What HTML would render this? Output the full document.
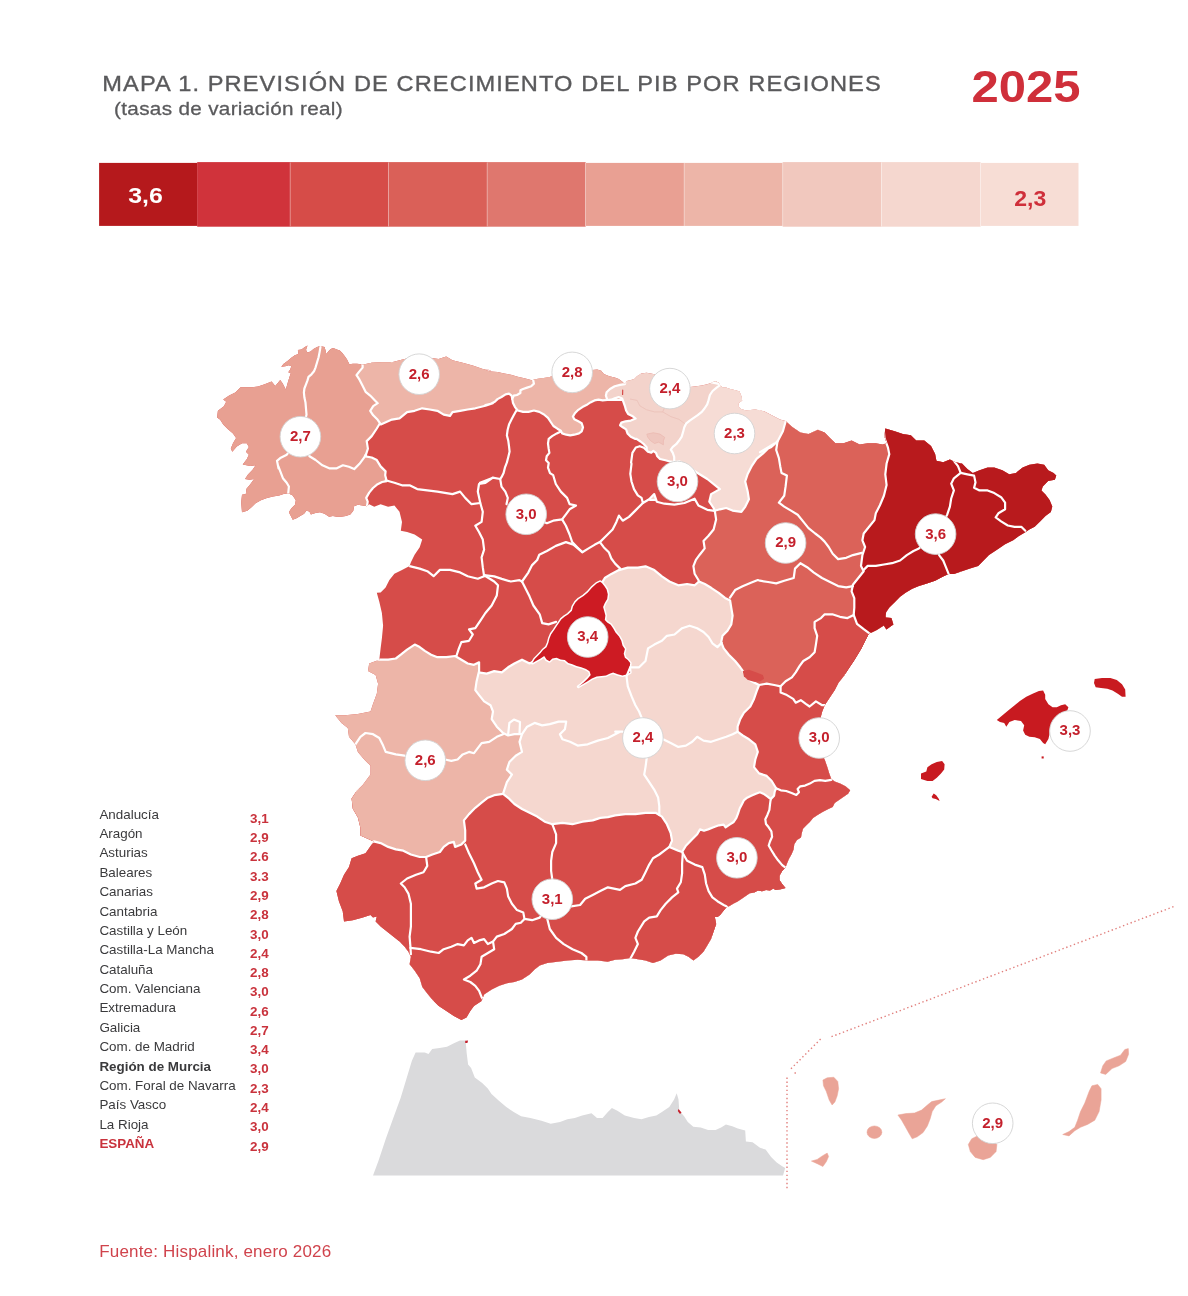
<!DOCTYPE html>
<html lang="es"><head><meta charset="utf-8"><title>Mapa 1. Previsión de crecimiento del PIB por regiones 2025</title>
<style>html,body{margin:0;padding:0;background:#fff}body{width:1188px;height:1296px;overflow:hidden;font-family:"Liberation Sans",sans-serif}svg{display:block}.n{font:13.4px "Liberation Sans",sans-serif;fill:#3a3a3c}.v{font:bold 13.4px "Liberation Sans",sans-serif;fill:#c9323c}.lb{font:bold 15px "Liberation Sans",sans-serif;fill:#c4202c;text-anchor:middle}</style></head><body>
<svg width="1188" height="1296" viewBox="0 0 1188 1296">
<rect width="1188" height="1296" fill="#fff"/>
<text x="102.3" y="91" font-family="Liberation Sans, sans-serif" font-size="21.5" fill="#5a5a5c" stroke="#5a5a5c" stroke-width="0.35" letter-spacing="1" textLength="779.5" lengthAdjust="spacingAndGlyphs">MAPA 1. PREVISIÓN DE CRECIMIENTO DEL PIB POR REGIONES</text>
<text x="114" y="115.2" font-family="Liberation Sans, sans-serif" font-size="19" fill="#5a5a5c" stroke="#5a5a5c" stroke-width="0.3" letter-spacing="0.3" textLength="229" lengthAdjust="spacingAndGlyphs">(tasas de variación real)</text>
<text x="971.6" y="101.6" font-family="Liberation Sans, sans-serif" font-weight="bold" font-size="43.5" fill="#cf2f3a" textLength="109" lengthAdjust="spacingAndGlyphs">2025</text>
<rect x="99.1" y="162.9" width="98.4" height="63" fill="#b5191c"/>
<rect x="197.2" y="162.1" width="93.1" height="64.6" fill="#d0333b"/>
<rect x="290" y="162.1" width="98.8" height="64.6" fill="#d64c48"/>
<rect x="388.5" y="162.1" width="98.8" height="64.6" fill="#da6058"/>
<rect x="487" y="162.1" width="98.8" height="64.6" fill="#df776e"/>
<rect x="585.5" y="162.9" width="98.8" height="63" fill="#e9a093"/>
<rect x="684" y="162.9" width="98.9" height="63" fill="#edb5a8"/>
<rect x="782.6" y="162.1" width="98.9" height="64.6" fill="#f1c8be"/>
<rect x="881.2" y="162.1" width="99.5" height="64.6" fill="#f5d7cf"/>
<rect x="980.4" y="162.9" width="98.1" height="63" fill="#f7ddd5"/>
<rect x="289.8" y="162.5" width="0.7" height="64" fill="#fff" fill-opacity="0.55"/>
<rect x="388.3" y="162.5" width="0.7" height="64" fill="#fff" fill-opacity="0.55"/>
<rect x="486.8" y="162.5" width="0.7" height="64" fill="#fff" fill-opacity="0.55"/>
<rect x="585.3" y="162.5" width="0.7" height="64" fill="#fff" fill-opacity="0.55"/>
<rect x="683.8" y="162.5" width="0.7" height="64" fill="#fff" fill-opacity="0.55"/>
<rect x="782.4" y="162.5" width="0.7" height="64" fill="#fff" fill-opacity="0.55"/>
<rect x="881" y="162.5" width="0.7" height="64" fill="#fff" fill-opacity="0.55"/>
<rect x="980.2" y="162.5" width="0.7" height="64" fill="#fff" fill-opacity="0.55"/>
<text x="128.2" y="203" font-family="Liberation Sans, sans-serif" font-weight="bold" font-size="22.5" fill="#fff" textLength="34.6" lengthAdjust="spacingAndGlyphs">3,6</text>
<text x="1014.2" y="205.8" font-family="Liberation Sans, sans-serif" font-weight="bold" font-size="22" fill="#cf2f3a" textLength="32" lengthAdjust="spacingAndGlyphs">2,3</text>
<path d="M373 1175.6 L378.5 1160.7 L385.9 1138.5 L393.3 1118.1 L400.7 1097.8 L406.3 1079.3 L411.9 1060.7 L415.6 1052.6 L424.8 1052.6 L428.5 1054.1 L432.2 1048.9 L439.6 1048.1 L447 1046.7 L454.4 1043 L460 1040.4 L465.6 1040.4 L466.7 1053.3 L468.1 1064.4 L471.1 1068.1 L474.8 1077.4 L482.2 1083 L487.8 1088.5 L491.5 1094.1 L498.9 1100.7 L506.3 1107 L513.7 1111.9 L521.1 1116.3 L530.4 1118.1 L541.5 1120.7 L550.7 1123.7 L560 1121.9 L567.4 1119.3 L574.8 1118.1 L582.2 1115.6 L591.5 1113.3 L597 1118.1 L602.6 1118.1 L607.4 1112.6 L611.9 1108.1 L617.4 1110.7 L624.8 1115.6 L634.1 1118.1 L641.5 1119.3 L648.9 1117 L656.3 1115.6 L661.9 1111.9 L669.3 1107 L674.1 1099.6 L676.7 1093.3 L678.5 1099.6 L679.3 1110.7 L684.1 1116.3 L687.8 1121.9 L693.3 1126.7 L700.7 1127.4 L708.1 1130 L715.6 1130 L721.1 1127.4 L725.9 1124.4 L732.2 1126.3 L737.8 1128.5 L745.2 1130.4 L745.9 1141.5 L752.6 1142.2 L760 1147.8 L765.6 1149.6 L771.1 1157 L776.7 1162.6 L782.2 1166.3 L785.2 1168.1 L783 1175.6Z" fill="#dadadc"/>
<path d="M465.2 1040.7 L468.1 1040.4 L467.4 1043 L465.2 1043Z" fill="#c4202c"/>
<path d="M678.5 1108.9 L681.5 1112.6 L680 1114.1 L677.8 1111.1Z" fill="#c4202c"/>
<defs><clipPath id="sil"><path d="M242 512.3 L241.2 502.4 L242 494.8 L245.8 494.1 L246.5 488.8 L250.3 484.2 L254.1 478.9 L249.5 479.7 L245 478.9 L248 474.4 L252.6 469.8 L255.6 465.3 L250.3 466.1 L242.7 464.5 L246.7 459.2 L248.9 454.7 L245.9 451.7 L248.9 447.1 L246.7 443.3 L242.1 443.3 L236.8 446.4 L232.3 451.7 L230.8 448.6 L233 443.3 L236.1 438 L233 433.5 L227.7 428.9 L223.2 424.4 L220.2 419.8 L217.1 417.6 L217.9 410.8 L223.9 406.2 L226.2 401.7 L223.2 399.4 L229.2 395.6 L235.3 392.6 L240.6 387.3 L245.9 387.3 L252 387.3 L258 386.5 L264 384.4 L269.1 382.4 L271.6 381.4 L275.2 386 L278.2 382.4 L280.2 379.9 L282.7 383.4 L285.8 389.5 L287.8 382.4 L289.3 377.4 L290.8 373.3 L288.3 372.3 L290.3 369.3 L291.3 366.3 L288.8 365.3 L285.3 366.3 L281.2 366.8 L283.7 363.7 L287.8 360.7 L291.3 357.7 L294.8 355.2 L298.4 354.1 L297.9 350.1 L301.4 349.6 L304.9 347.1 L307.5 345.6 L306 350.1 L307.5 352.6 L310.5 351.6 L313.5 349.1 L317.1 347.1 L320.1 346.1 L322.1 346.6 L324.6 347.1 L325.7 351.1 L326.2 354.1 L328.7 351.1 L330.7 349.1 L333.2 348.1 L336.8 349.6 L339.8 350.6 L342.3 353.1 L344.8 356.2 L346.9 359.2 L348.4 362.2 L349.4 364.2 L352.9 363.7 L357 363.7 L361 364.2 L362.5 364.7 L371.7 362.8 L381.8 362.3 L391.9 362.3 L399.5 360.3 L409.6 357.8 L419.7 356.5 L429.8 357.8 L438.6 359 L446.2 356.5 L452.5 360.3 L462.6 362.8 L472.7 365.4 L482.8 369.1 L492.9 370.4 L484 369.4 L490.8 371.4 L497.5 372.1 L504.2 373.5 L511 374.8 L517.7 376.8 L524.4 378.2 L531.9 380.2 L536.6 378.9 L542 378.2 L547.3 377.5 L552.7 376.2 L560.8 374.1 L574.3 372.1 L587.7 370.8 L592.5 370.1 L597.2 369.4 L601.2 370.8 L603.9 374.1 L609.3 376.2 L614.7 377.5 L618.7 378.9 L622.1 381.5 L624.8 384.2 L627 380.9 L630.4 380.2 L634.4 378.9 L637.1 376.2 L641.2 373.5 L646.6 372.8 L650.6 373.5 L657.3 374.8 L665.4 376.8 L673.5 380.2 L682.9 384.2 L690.3 386.9 L696.4 386.3 L701.8 385.6 L707.2 384.2 L711.2 382.9 L715.3 380.9 L719.3 382.9 L720 384.9 L722.7 387.6 L726 387.6 L730.1 389 L735.5 390.3 L739.5 391.6 L741.5 396.4 L742.2 400.4 L738.8 403.1 L738.1 406.5 L741.5 409.2 L746.2 410.5 L755.3 409.5 L764.1 411.3 L770.4 414.6 L780 419.6 L773.5 417.7 L785.6 420.9 L792.3 427.1 L800.4 432.5 L808.5 433.9 L817.9 429.8 L824.6 432.5 L830 437.9 L835.4 443.3 L843.5 443.3 L851.6 440.6 L859.7 444.6 L867.7 443.3 L875.8 443.3 L882.6 444.6 L886.6 443.3 L884.4 436.6 L885.3 428.5 L894.7 431.2 L902.8 433.9 L910.8 435.2 L916.2 440.6 L924.3 440.6 L931 446 L935.1 454.1 L936.4 460.8 L943.2 462.2 L949.9 459.5 L955.3 462.2 L962 463.5 L967.4 468.9 L972.8 472.9 L979.5 470.2 L987.6 467.5 L994.3 467.5 L1002.4 470.2 L1009.2 474.3 L1015.9 472.9 L1022.6 467.5 L1029.4 464.8 L1037.4 463.5 L1044.2 464.8 L1048.2 470.2 L1053.6 472.9 L1056.3 475.6 L1054.9 479.7 L1048.2 481 L1042.8 486.4 L1041.5 490.4 L1045.5 494.5 L1049.6 499.9 L1052.3 506.6 L1050.9 512 L1045.5 516 L1040.1 521.4 L1034.7 526.8 L1029.4 529.5 L1025.3 532.2 L1018.6 536.2 L1013.2 540.3 L1005.1 544.3 L997 549.7 L989 555.1 L983.6 560.5 L978.2 565.9 L970.1 568.6 L962 571.2 L953.9 573.9 L948.6 573.9 L943.2 576.6 L935.1 580.7 L927 583.4 L918.9 586.1 L912.2 588.8 L905.5 592.8 L900.1 596.8 L894.7 602.2 L889.3 607.6 L886.1 612.2 L885.6 616.1 L885.8 617.4 L891.4 618.1 L893.4 624.4 L886.4 629.5 L883.8 625.5 L876.8 630 L871.7 632.6 L869.1 633.2 L865.2 640.8 L861.4 648.4 L857.6 654.7 L853.8 661 L848.7 668.6 L843.7 676.2 L838.6 682.5 L834.8 690.1 L829.8 697.6 L824.7 705.2 L822.2 711.5 L820.2 719.1 L819.2 729.2 L819.2 746.9 L822.2 755.7 L824.7 759.5 L827.3 767.1 L829.3 773.5 L831.3 778.9 L834.7 781.5 L840.1 783.6 L845.5 786.3 L850.2 790.3 L848.1 793.7 L844.1 796.4 L839.4 799.7 L834.7 803.1 L832.7 807.1 L827.9 809.2 L822.6 811.9 L817.2 815.2 L813.1 817.9 L809.8 822 L806.4 825.3 L803 828.7 L801.7 833.4 L801 837.4 L797 840.1 L794.3 844.2 L793.6 849.6 L791.6 854.3 L788.9 859 L786.9 863.7 L785.5 867.7 L782.2 871.1 L779.5 875.8 L779.5 879.9 L782.2 883.9 L785.5 887.9 L780.8 889.3 L775.4 890 L773.4 888.6 L770 890.6 L766 890 L762 891.3 L757.9 890.6 L753.9 892.7 L749.8 893.3 L745.8 896 L741.8 898.7 L737.7 901.4 L733.7 903.4 L729.6 906.1 L726.3 907.5 L722.9 911.5 L720.2 914.9 L717.5 916.9 L714.8 916.9 L716.2 923.9 L713.6 931.5 L711.1 939.1 L707.3 945.4 L703.5 951.7 L698.5 956.8 L693.4 960.6 L688.4 956.8 L683.3 954.2 L675.8 953.7 L668.2 955.5 L660.6 960.6 L653 963.1 L645.5 960.6 L637.9 959.3 L630.3 958 L622.7 959.3 L615.2 959.8 L607.6 961.8 L607.9 961.8 L597.8 960.6 L587.7 960.6 L577.6 959.8 L567.5 960.6 L557.4 961.8 L547.3 963.1 L539.7 965.6 L534.6 969.4 L529.6 974.4 L522 979.5 L514.4 982 L506.9 983.3 L499.3 985.8 L491.7 989.6 L484.1 994.6 L481.6 1001 L474 1006 L470.3 1011.1 L466.5 1017.4 L461.4 1019.9 L453.8 1016.1 L446.3 1011.1 L438.7 1006 L432.4 999.7 L427.3 993.4 L422.3 987.1 L419.7 978.2 L414.7 970.7 L409.6 964.3 L410.9 956.8 L408.4 951.7 L404.6 946.7 L399.5 941.6 L393.2 936.6 L386.9 931.5 L380.6 926.5 L375.6 921.4 L376.8 916.4 L373 917.6 L370.5 915.1 L362.9 917.6 L352.8 920.2 L344 921.4 L342.7 911.3 L338.9 901.2 L336.4 891.1 L340.2 883.5 L344 874.7 L349 867.1 L351.6 858.3 L357.9 855.8 L365.5 853.2 L373.8 841.4 L360.4 835.6 L360.4 827.7 L357.9 817.6 L352.8 808.7 L351.6 798.6 L356.6 791.1 L362.9 784.7 L370.5 774.6 L370.5 765.8 L364.2 759.5 L357.9 751.9 L355.4 744.3 L349 736.8 L347.8 727.9 L341.5 722.9 L335.2 715.3 L345.3 715.3 L357.9 714 L370.5 711.5 L373 703.9 L376.8 693.8 L378.1 683.7 L375.6 674.9 L368 671.1 L369.2 663.5 L379.3 659.7 L380.6 648.4 L381.9 638.3 L383.1 625.7 L381.9 613 L379.3 601.7 L376.8 592.8 L380.6 592.6 L385.6 587.6 L389.4 580 L394.4 573.7 L402 569.9 L409.6 566.1 L410.9 562.3 L414.6 554.7 L419.7 547.2 L422.2 539.6 L414.6 534.5 L407.1 532 L400.8 530.8 L402 521.9 L399.5 511.8 L394.4 505.5 L388.1 506.8 L380.6 504.2 L374.2 506.8 L369.2 504.2 L367 506.2 L362.4 505.5 L357.9 504.7 L354.1 506.2 L353.3 510.8 L350.3 514.5 L345.8 516.1 L341.2 516.8 L336.7 516.8 L332.9 516.1 L329.1 516.8 L324.5 513.8 L320 512.3 L315.5 513 L310.9 514.5 L309.4 511.5 L306.4 510.8 L304.1 513.8 L300.3 516.1 L296.5 518.3 L292.7 519.8 L291.2 516.8 L288.9 512.3 L291.2 508.5 L295 504.7 L295.8 500.2 L292.7 495.6 L288.2 493.3 L283.6 494.1 L279.1 495.6 L273 496.4 L267 497.9 L260.9 500.2 L255.6 503.2 L251.8 507 L247.3 510.8Z"/></clipPath></defs>
<g clip-path="url(#sil)" stroke="#fff" stroke-width="2.2" stroke-linejoin="round" stroke-linecap="round">
<path d="M150 300 L1200 300 L1200 1100 L150 1100Z" fill="#d64c49"/>
<path d="M478.6 672.4 L486.7 673.6 L494.2 671.1 L501.8 672.4 L508.1 667.3 L514.4 663.5 L522 659.7 L529.6 663.5 L534.6 661 L601.2 583.8 L605.1 577.7 L611.4 573.9 L618.9 570.1 L627.8 567.6 L637.9 567.6 L645.5 566.3 L654.3 570.1 L661.9 576.4 L669.4 581.5 L678.3 585.3 L687.1 584 L694.7 585.3 L699 581.5 L900 560 L900 1000 L400 1000 L400 760 L446.3 691.3Z" fill="#f5d7cf"/>
<path d="M380.6 422.2 L376.8 428.5 L371.7 436.1 L366.7 441.1 L367.9 448.7 L365.4 456.3 L371.7 457.5 L376.8 460.1 L380.6 466.4 L385.6 471.4 L385.2 475.2 L386.7 481.2 L382.1 482 L377.6 484.2 L373 488 L369.2 492.6 L366.2 497.9 L367.7 501.7 L367 506.2 L367.3 507.7 L380 560 L180 560 L180 320 L400 320Z" fill="#e8a092"/>
<path d="M362.6 365.3 L362.6 367.6 L358.8 372.1 L356.5 375.2 L359.5 379.7 L362.6 385.8 L365.6 391.8 L370.2 395.6 L374.7 400.2 L377.7 403.2 L373.2 406.2 L370.2 410.8 L373.2 415.3 L377.7 419.8 L380.8 424.4 L391.9 419.6 L399.5 418.4 L407.1 412.1 L414.6 410.8 L422.2 408.3 L429.8 409.5 L437.4 410.8 L443.7 414.6 L450 415.9 L452.5 412.1 L460.1 410.8 L467.7 409.5 L475.3 408.3 L485.4 405.8 L492.9 403.2 L485.4 405.1 L490.8 403.8 L494.8 401.8 L497.5 399.1 L501.5 397 L505.6 394.3 L509 393.7 L511.6 395.7 L512.3 399.1 L560 420 L560 320 L350 320Z" fill="#edb5a8"/>
<path d="M532.8 378.9 L533.2 380.2 L533.9 383.6 L531.2 386.3 L527.1 387.6 L523.1 389 L520.4 390.3 L520.4 393 L517 395 L513.7 395.7 L512.3 399.1 L513 403.1 L515 407.1 L517.7 410.5 L523.1 411.9 L528.5 411.9 L533.9 410.5 L539.3 411.9 L544 414.5 L548 417.9 L550.7 422 L553.4 426 L557.4 428.7 L560.8 430.7 L562.2 433.4 L566.2 434.7 L570.2 435.4 L574.3 434.7 L579 433.4 L581.7 431.4 L583 427.3 L581.7 423.3 L578.3 421.3 L574.3 419.3 L572.9 416.6 L574.9 413.2 L578.3 409.8 L582.4 407.1 L586.4 405.1 L590.4 402.4 L594.5 400.4 L598.5 399.7 L602.6 400.4 L607.3 400 L640 400 L640 340 L530 340Z" fill="#edb5a8"/>
<path d="M625.2 382.9 L624.8 384.2 L620.1 384.9 L614.7 386.3 L610 389 L606.6 392.3 L605.9 395.7 L607.3 400 L611.3 399.7 L614.7 398.4 L618.7 397 L622.1 398.4 L623.4 401.8 L624.8 405.8 L626.1 410.5 L628.1 413.9 L632.2 415.9 L635.6 418.6 L630.8 420.6 L625.5 421.3 L621.4 422.6 L620.1 425.3 L622.8 427.3 L626.1 429.4 L627.5 433.4 L630.8 436.8 L634.9 438.8 L636.5 438.8 L640.5 441.5 L643.9 444.2 L646.6 447.3 L650 500 L760 500 L760 340 L625 340Z" fill="#f3d3cb"/>
<path d="M674.2 462 L670.8 461.7 L665.4 460.3 L660 459 L657.3 456.3 L656 452.9 L653.3 450.9 L651.3 452.7 L647.9 451.6 L643.9 447.8 L639.8 446.2 L635.8 447.5 L632.4 452.9 L631.1 462.4 L631.5 463.8 L630.3 473.9 L631.5 481.5 L634 489.1 L637.8 495.4 L641.6 497.9 L642.9 503 L649.2 499.2 L654.2 494.1 L656.8 501.7 L664.3 503.7 L674.4 504.7 L684.5 503 L694.6 498.7 L698.4 505.5 L707.3 509.8 L714.8 510.8 L760 520 L760 440Z" fill="#d64c49"/>
<path d="M720 384.2 L720 385.2 L716.6 387.6 L712.6 391 L709.9 395 L708.5 400.4 L707.2 404.4 L704.5 408.5 L701.8 411.9 L697.7 415.2 L693.7 417.9 L689.7 420.6 L686.3 423.3 L684.3 427.3 L682.9 432.7 L681.6 436.8 L678.9 440.8 L676.2 444.2 L672.8 446.9 L670.8 449.6 L672.8 452.9 L674.2 457 L674.2 462 L679.5 461.3 L687.1 466.4 L697.2 472.7 L707.3 479 L719.9 489.1 L711.1 494.1 L709.3 501.7 L713.6 508 L714.8 510.8 L740 560 L820 560 L820 380 L700 380Z" fill="#f6dcd5"/>
<path d="M786.1 419.1 L785.6 421.5 L782.9 431.2 L777.5 441.4 L770.8 447.3 L760 452.2 L774.2 443.6 L767.9 448.7 L762.8 453.7 L756.5 458.8 L751.5 466.4 L747.7 473.9 L745.2 481.5 L747.7 491.6 L748.9 499.2 L745.2 506.8 L741.4 511.8 L732.5 510.6 L726.2 508 L719.9 509.3 L714.8 510.8 L716.1 519.4 L713.6 529.5 L708.5 535.8 L703.5 540.9 L704.7 548.4 L699.7 554.7 L695.9 559.8 L693.4 566.1 L694.6 573.7 L698.4 580 L699 581.5 L704.8 584 L711.1 587.8 L718.7 592.8 L725 597.9 L730.1 600.4 L731.3 608 L732.6 615.6 L731.3 624.4 L727.5 630.7 L722.5 635.8 L721.2 642.1 L723.7 648.4 L728.8 654.7 L735.1 661 L740.2 667.3 L743.9 672.4 L747.7 678.7 L754 682.5 L759.1 685 L760 760 L960 760 L960 380 L800 380Z" fill="#db6259"/>
<path d="M883.4 425.8 L884.4 437.9 L887.9 447.3 L889.3 454.1 L886.6 463.5 L885.3 474.3 L886.6 485.1 L883.9 495.8 L879.9 505.3 L875.8 513.3 L874.5 520.1 L869.1 526.8 L863.7 533.5 L862.4 540.3 L865.1 547 L862.4 555.1 L861 565.9 L863.7 571.2 L858.3 578 L852.9 584.7 L851.6 591.4 L854.3 598.2 L854.3 607.6 L853.7 614.9 L840 700 L1100 700 L1100 400 L880 400Z" fill="#b81a1d"/>
<path d="M884 643 L869.1 633.2 L863.7 629.2 L857 623.8 L853.7 614.9 L847.5 618.1 L839.9 616.8 L832.3 614.3 L824.7 614.3 L821 618.1 L814.6 621.9 L814.6 628.2 L817.2 635.8 L815.9 644.6 L814.6 652.2 L809.6 657.2 L803.3 661 L799.5 666.1 L795.7 672.4 L791.9 677.4 L785.6 681.2 L780.6 686.3 L774.2 685 L766.7 683.7 L759.1 685 L756.6 691.3 L754 698.9 L750.3 706.5 L743.9 712.8 L740.2 719.1 L737.6 726.7 L737.6 731.7 L742.7 735.5 L749 739.3 L755.3 744.3 L757.8 751.9 L755.3 759.5 L754 767.1 L759.1 773.4 L766.7 775.9 L771.7 781 L775.5 787.3 L776.1 788.3 L774.7 791.6 L774.1 795.7 L770.7 799.1 L745 845 L760 930 L900 900 L900 652Z" fill="#d64c49"/>
<path d="M787.5 868.4 L785.5 867.7 L782.2 865.1 L778.1 860.3 L774.7 855.6 L771.4 850.2 L768.7 845.5 L770 841.5 L772.1 836.8 L771.4 831.4 L768.7 827.3 L766 824 L765.3 819.3 L767.3 815.2 L769.4 809.8 L770 804.4 L770.7 799.1 L767.3 796.4 L763.3 793.7 L759.9 792.3 L755.9 793.7 L751.2 795.7 L747.1 797.7 L743.8 800.4 L741.8 804.4 L739.7 808.5 L738.4 812.5 L736.4 817.9 L733.7 822 L729.6 824.6 L725.6 827.3 L723.6 824.6 L718.9 825.3 L713.5 827.3 L708.1 829.4 L704 830.7 L700 829.4 L697.2 834.3 L692.2 839.3 L685.9 845.7 L682.1 852 L640 900 L760 960 L820 900Z" fill="#d64c49"/>
<path d="M727.5 907.5 L726.3 906.3 L723.7 905 L717.4 901.2 L712.4 897.4 L708.6 891.1 L706.1 883.5 L704.8 874.7 L702.3 867.1 L694.7 864.6 L687.1 860.8 L682.1 852 L678.3 850.7 L669.4 846.9 L672 840.6 L670.7 833 L666.9 824.2 L661.9 816.6 L655.6 812.8 L645.5 812.8 L635.4 814.1 L625.3 814.1 L615.2 815.4 L607.9 817.1 L600.3 817.9 L592.7 820.4 L582.6 821.7 L572.5 824.2 L562.4 822.9 L552.3 824.2 L544.7 821.7 L537.2 816.6 L529.6 812.8 L522 809 L514.4 804 L509.4 798.9 L503.1 793.9 L400 780 L320 800 L320 1040 L740 1040Z" fill="#d64c49"/>
<path d="M377.6 659.7 L388.2 659.7 L395.8 658.5 L400.8 654.7 L407.1 649.6 L414.7 644.6 L419.7 647.1 L424.8 650.9 L431.1 654.7 L437.4 657.2 L446.3 657.2 L455.1 656 L461.4 659.7 L467.7 663.5 L474 664.8 L479.1 662.3 L479.1 671.1 L476.6 681.2 L475.3 690.1 L479.1 695.1 L484.1 701.4 L490.5 705.2 L493 711.5 L491.7 719.1 L496.8 726.7 L503.1 733 L508.1 735.5 L514.4 734.2 L522 734.2 L519.5 741.8 L522 751.9 L515.7 755.7 L509.4 762 L506.9 769.6 L511.9 774.6 L506.9 782.2 L503.1 793.6 L503.1 793.9 L494.2 795.2 L487.9 797.7 L481.6 802.7 L475.3 807.8 L469 814.1 L463.9 820.4 L465.2 830.5 L465.2 840.6 L461.4 844.4 L455.1 846.9 L453.8 841.9 L448.8 843.1 L443.7 846.9 L439.9 852 L432.4 854.5 L426.1 857 L419.7 857 L410.9 854.5 L403.3 850.7 L395.8 849.4 L388.2 846.9 L380.6 843.1 L373.8 841.4 L357.9 852 L320 830 L320 660Z" fill="#edb5a8"/>
<path d="M600.1 581.8 L596.6 583.6 L591.9 587.7 L587.8 592.4 L583.6 595.9 L578.9 598.9 L575.4 602.4 L573 606.5 L571.9 610.7 L568.3 614.2 L564.8 616.5 L561.2 619.5 L558.9 623 L556.5 626.6 L554.2 630.1 L551.2 634.2 L549.5 638.3 L548.3 643.1 L546.5 647.2 L543 650.1 L540.6 653.1 L537.7 656 L534.7 659 L532.4 663.1 L536.5 660.7 L540.6 658.4 L544.2 656 L546.5 659.6 L549.5 661.3 L552.4 658.4 L556.5 657.8 L560.7 659.6 L564.8 660.1 L568.3 663.1 L572.4 664.3 L576.6 666 L581.3 667.2 L586 669 L589.5 671.3 L590.7 674.9 L587.8 678.4 L584.2 681.9 L580.7 684.9 L578.3 686.7 L582.5 684.3 L587.2 681.4 L591.9 678.4 L596.6 676.6 L601.3 676.1 L606 675.5 L609.6 673.7 L613.1 672.5 L617.8 674.3 L622.5 675.5 L627.2 674.3 L630.2 672.5 L629.6 667.8 L630.2 663.1 L627.8 660.1 L624.9 657.8 L623.7 653.7 L624.9 649 L622.5 645.4 L621.3 640.7 L619 636.6 L615.5 632.5 L613.1 628.3 L610.7 624.8 L607.2 622.4 L604.8 620.1 L605.4 615.4 L604.3 611.2 L603.1 607.1 L604.8 603 L607.2 598.9 L607.8 594.2 L606.6 589.4 L604.3 585.9 L601.9 583Z" fill="#cd1b23" paint-order="stroke" stroke-width="3"/>
<path d="M742.7 671.1 L749 669.8 L756.6 672.4 L762.9 674.9 L764.1 678.7 L760.4 681.2 L754 681.7 L747.7 679.9 L743.9 676.2Z" fill="#d64c49" stroke="none"/>
<path d="M622.7 390.2 L622.6 394.5" fill="none" stroke="#d64c49" stroke-width="1.2"/>
<path d="M647.2 434.1 L653.3 432.7 L660 434.1 L664.7 437.4 L663.4 440.8 L663.4 444.8 L658.7 442.2 L654.6 443.5 L650.6 440.8 L647.9 437.4Z" fill="#efc6be" stroke="#e9b4ab" stroke-width="0.6"/>
<path d="M630.4 399.1 L637.1 400.4 L639.8 405.8 L646.6 409.8 L654.6 411.9 L662.7 411.9 L670.8 416.6 L678.9 419.3 L684.3 423.3" fill="none" stroke="#ebc0b8" stroke-width="0.8"/>
<path d="M662.7 411.9 L665.4 405.8 L670.8 403.1 L676.2 404.4" fill="none" stroke="#ebc0b8" stroke-width="0.8"/>
<path d="M320.6 346.1 L319.6 352.1 L318.6 357.2 L317.1 362.2 L315.6 367.3 L314 371.3 L311.5 374.3 L308.5 376.9 L307.5 380.4 L306 384.4 L304.4 388.5 L303.9 392.5 L304.4 397.6 L305.5 402.6 L306 408.7 L306.5 414.7 L300.8 436.5 L286.8 454.7 L280.8 457.7 L277 460.8 L278.5 468.3 L278.3 466.1 L280.6 472.1 L282.9 478.2 L286.7 482.7 L288.9 486.5 L288.2 493.6" fill="none"/>
<path d="M300.8 436.5 L309.5 456.2 L315.6 460 L322.4 465.3 L329.2 468.3 L336.8 468.3 L342.9 465.3 L348.9 466.8 L354.2 469.1 L359.5 463.8 L364.1 457.7 L365.6 454.7" fill="none"/>
<path d="M385.6 480.3 L394.4 482.8 L402 485.3 L409.6 485.3 L417.2 489.1 L427.3 490.4 L437.4 491.6 L444.9 492.9 L452.5 494.1 L460.1 491.6 L465.2 497.9 L471.5 504.2 L480.3 503" fill="none"/>
<path d="M500.2 479 L492.6 477.7 L487.6 480.3 L480 482.8 L492.9 477.7 L485.4 482.8 L479 484 L477.8 491.6 L480.3 503 L482.8 511.8 L481.6 521.9 L475.3 525.7 L479 532 L482.8 539.6 L484.1 549.7 L481.6 557.3 L482.8 567.4 L484.1 576.2" fill="none"/>
<path d="M409.6 566.1 L419.7 568.6 L427.3 571.2 L433.6 576.2 L439.9 569.9 L450 569.9 L460.1 572.4 L467.7 576.2 L477.8 578.7 L484.1 576.2" fill="none"/>
<path d="M508.1 734.7 L509.4 722.9 L513.9 719.6 L520 722.1 L519.5 733.7" fill="none"/>
<path d="M484.1 575.2 L494.2 581.5 L498 585.3 L496.8 595.4 L491.7 605.5 L485.4 613 L480.4 620.6 L475.3 628.2 L469 629.4 L472.8 634.5 L469 640.8 L461.4 642.1 L458.9 648.4 L456.4 656" fill="none"/>
<path d="M484.1 575.2 L494.2 576.4 L501.8 578.9 L510.7 581.5 L519.5 580.2 L522 581.5" fill="none"/>
<path d="M522 581.5 L525.8 589 L529.6 596.6 L533.4 605.5 L539.7 614.3 L542.2 623.1 L548.5 624.4 L556.1 621.9" fill="none"/>
<path d="M522 581.5 L528.3 572.6 L532.1 565.1 L537.2 560 L539.3 554.7 L546.9 551 L555.8 545.9 L565.9 542.1 L573.4 544.6 L582.3 552.2" fill="none"/>
<path d="M516.4 410.5 L513.7 415.2 L511.6 419.3 L509 424.6 L507.6 430 L506.9 435.4 L508.3 440.8 L509 446.2 L509.6 451.6 L508.3 457 L506.9 462.4 L504.9 467.7 L503.6 473.1 L501.5 477.2 L500.2 479 L501.5 486.6 L505.3 491.6 L507.8 497.9 L506.5 504.2" fill="none"/>
<path d="M560.8 431.4 L556.8 433.4 L552.1 436.1 L548.7 438.8 L548 443.5 L548.7 448.9 L549.4 452.9 L546.7 456.3 L546 460.3 L548.7 463 L548 467.7 L550 473.1 L553.2 475.2 L555.8 484 L560.8 491.6 L567.1 497.9 L569.6 504.2 L576 505.5 L569.6 509.3 L565.9 514.3 L562.1 519.4 L553.2 520.7 L546.9 523.2 L526.2 514.3" fill="none"/>
<path d="M562.1 519.4 L565.9 525.7 L569.6 534.5 L572.2 542.1 L577.2 547.2 L582.3 552.2 L588.6 548.4 L594.9 544.6 L599.9 542.1" fill="none"/>
<path d="M599.9 542.1 L606.3 535.8 L612.6 529.5 L616.4 521.9 L618.9 515.6 L622.7 520.7 L629 516.9 L635.3 510.6 L640.4 505.5 L642.9 503" fill="none"/>
<path d="M599.9 542.1 L603.7 547.2 L608.8 552.2 L611.3 558.5 L615.1 563.6 L620.2 568.6" fill="none"/>
<path d="M953.9 460.8 L958 466.2 L960.7 472.9 L953.9 478.3 L951.2 483.7 L953.9 490.4 L951.2 498.5 L949.9 506.6 L947.2 514.7 L935.6 534.1" fill="none"/>
<path d="M960.7 472.9 L967.4 474.3 L974.1 475.6 L975.5 482.4 L974.1 487.7 L979.5 490.4 L987.6 490.4 L994.3 493.1 L1001.1 497.2 L1005.1 502.6 L1005.1 509.3 L998.4 513.3 L995.7 517.4 L1001.1 521.4 L1007.8 525.5 L1014.5 526.8 L1021.3 526.8 L1025.3 530.8" fill="none"/>
<path d="M863.7 569.9 L867.7 565.9 L875.8 565.9 L883.9 564.5 L892 563.2 L900.1 560.5 L906.8 555.1 L913.5 551 L918.9 548.4 L935.6 534.1 L939.1 555.1 L943.2 560.5 L945.9 567.2 L948.6 573.9" fill="none"/>
<path d="M777.5 441.4 L776.2 450 L778.9 458.1 L780.2 466.2 L781.5 472.9 L786.9 475.6 L785.6 486.4 L784.2 495.8 L778.9 502.6 L784.2 506.6 L791 510.6 L797.7 514.7 L803.1 521.4 L808.5 528.1 L815.2 533.5 L820.6 537.6 L824.6 541.6 L828.7 547 L832.7 553.7 L838.1 559.1 L846.2 557.8 L852.9 555.1 L861.8 552.9" fill="none"/>
<path d="M730 597.7 L735.1 590.1 L742.6 586.3 L751.5 582.5 L757.8 580 L760 580.7 L768.1 582 L776.2 583.4 L784.2 580.7 L793.7 578 L795 568.6 L800.4 563.2 L807.1 567.2 L813.9 572.6 L822 578 L830 582 L838.1 586.1 L846.2 587.4 L852.9 586.1" fill="none"/>
<path d="M780.6 686.3 L780.6 692.6 L786.9 695.1 L793.2 698.9 L795.7 702.7 L800.8 700.2 L805.8 703.9 L809.6 706.5 L815.9 701.4 L822.2 705.2 L824.7 705.2" fill="none"/>
<path d="M776.1 788.3 L780.8 790.3 L786.2 791 L791.6 793 L796.3 795 L799 792.3 L797.6 789 L800.3 786.3 L805.1 785.6 L809.8 783.6 L814.5 780.9 L819.9 780.2 L825.3 780.9 L831.3 779.9" fill="none"/>
<path d="M355.4 744.3 L360.4 736.8 L365.5 733 L373 734.2 L379.3 738 L383.1 745.6 L385.7 751.9 L395.8 754.4 L404.6 755.7 L425.3 760.3 L445 759.5 L451.3 760.8 L457.6 759.5 L462.7 754.4 L469 751.9 L474 753.2 L477.8 748.1 L481.6 743.1 L489.2 741.8 L496.8 736.8 L503.1 734.2" fill="none"/>
<path d="M522 734.2 L527.1 726.7 L534.6 722.9 L542.2 725.4 L549.8 724.1 L558.6 721.6 L566.2 721.6 L564.9 729.2 L559.9 734.2 L562.4 739.3 L570 741.8 L577.6 745.6 L587.7 744.3 L597.8 740.6 L607.9 738 L620 731.7 L615.2 731.7 L622.7 731.7 L642.9 738" fill="none"/>
<path d="M630.3 667.3 L626.5 676.2 L627.8 686.3 L631.6 696.4 L635.4 705.2 L639.1 711.5 L641.7 717.8 L642.9 738 L646.7 758.2 L645.5 767.1 L644.2 774.6 L649.2 782.2 L654.3 789.8 L658.1 797.4 L659.3 806.2 L659.3 815.1" fill="none"/>
<path d="M630.3 667.3 L639.1 667.3 L645.5 661 L648 648.4 L654.3 644.6 L661.9 640.8 L666.9 635.8 L674.5 634.5 L682.1 628.2 L689.6 625.7 L697.2 628.2 L703.5 632 L708.6 637 L712.4 643.3 L717.4 647.1 L721.7 642.8" fill="none"/>
<path d="M642.9 738 L663.1 739.3 L670.7 743.1 L678.3 746.9 L685.9 745.6 L692.2 741.8 L697.2 736.8 L703.5 740.6 L711.1 741.8 L718.7 739.3 L726.3 736.8 L732.6 734.2 L737.6 731.7" fill="none"/>
<path d="M426.1 857 L427.3 865.9 L423.5 872.2 L416 874.7 L407.1 878.5 L400.8 883.5 L404.6 887.3 L408.4 893.6 L410.9 903.7 L410.9 913.8 L410.9 926.5 L409.6 936.6 L410.4 946.7 L410.9 954.2" fill="none"/>
<path d="M410.4 947.9 L421 949.2 L431.1 951.7 L438.7 953 L443.7 949.2 L451.3 946.7 L457.6 944.1 L463.9 945.4 L467.7 940.4 L471.5 937.8 L474 942.9 L479.1 940.4 L484.1 939.1 L487.9 944.1 L493 941.6 L496.8 936.6 L504.3 934 L511.9 929 L515.7 923.9 L520.8 922.7 L524.5 918.9" fill="none"/>
<path d="M493 941.6 L494.2 949.2 L487.9 953 L481.6 956.8 L480.4 964.3 L476.6 970.7 L470.3 975.7 L463.9 979.5 L470.3 982 L475.3 985.8 L479.1 990.9 L481.6 997.2 L482.9 999.2" fill="none"/>
<path d="M465.2 844.4 L469 853.2 L474 863.3 L477.8 872.2 L481.6 879.7 L475.3 883.5 L476.6 888.6 L484.1 887.3 L491.7 883.5 L498 881 L504.3 882.3 L506.9 888.6 L508.1 896.2 L511.9 903.7 L517 910.1 L523.3 912.6 L524.5 918.9 L532.1 920.2 L539.7 917.6 L552.3 899.2" fill="none"/>
<path d="M552.3 824.2 L556.1 834.3 L556.1 843.1 L552.3 852 L551.1 860.8 L551.1 870.9 L552.3 879.7 L552.3 899.2" fill="none"/>
<path d="M552.3 899.2 L571.3 906.3 L580.1 905 L585.2 898.7 L592.7 894.9 L600.3 891.1 L607.9 887.3 L620 889.8 L625.3 886.1 L635.4 883.5 L641.7 879.7 L645.5 872.2 L649.2 864.6 L653 858.3 L659.3 854.5 L664.4 850.7 L669.4 846.9" fill="none"/>
<path d="M552.3 899.2 L547.3 918.9 L549.8 929 L556.1 937.8 L563.7 944.1 L572.5 949.2 L581.4 953 L586.4 956.8 L586.4 961.3" fill="none"/>
<path d="M682.8 853.2 L682.1 863.3 L682.1 873.4 L680.8 882.3 L677 888.6 L678.3 892.4 L672 897.4 L665.7 903.7 L660.6 910.1 L656.8 916.4 L649.2 917.6 L644.2 921.4 L637.9 931.5 L635.4 937.8 L637.9 944.1 L634.1 951.7 L630.3 958.8" fill="none"/>
</g>
<path d="M996.8 720 L1003.1 714.7 L1009.4 709.4 L1014.7 705.2 L1019.9 701 L1026.3 696.8 L1032.6 693.7 L1038.9 691.1 L1043.1 690.5 L1045.2 694.7 L1045.2 698.9 L1048.4 704.2 L1052.6 707.3 L1056.8 707.3 L1061 705.2 L1065.2 704.2 L1068.4 707.3 L1067.3 710.5 L1062 712.6 L1056.8 716.8 L1052.6 722.1 L1049.8 728.4 L1049.4 734.7 L1048.4 738.9 L1045.2 744.2 L1043.1 743.1 L1039.9 738.9 L1034.7 737.2 L1029.4 736.8 L1025.2 734.7 L1023.1 730.5 L1024.2 725.2 L1021 721 L1014.7 720 L1009.4 722.1 L1006.3 726.7 L1004.2 723.1 L1000 722.1Z" fill="#c81a20"/>
<path d="M1094.7 678.9 L1102 677.9 L1110.4 677.9 L1116.8 680 L1122 684.2 L1125.2 689.5 L1125.6 696.8 L1122 696.8 L1117.8 693.7 L1112.5 690.5 L1107.3 688.8 L1101 688 L1095.7 687.3 L1094 683.1Z" fill="#c81a20"/>
<path d="M921 773.6 L926.3 771.5 L927.4 767.3 L931.6 764.2 L936.8 762.1 L942.1 761 L944.6 764.2 L944.2 769.4 L941 773.6 L936.8 777.8 L932.6 781 L927.4 781 L921 778.9Z" fill="#c81a20"/>
<path d="M931.6 796.8 L933.7 793.6 L936.2 795.3 L938.9 798.9 L939.6 801 L935.8 798.9 L932.6 798.2Z" fill="#c81a20"/>
<path d="M1041.6 756.4 L1043.7 756.4 L1043.7 758.5 L1041.6 758.5Z" fill="#c81a20"/>
<path d="M822.9 1080.1 L827.2 1077.8 L833.8 1077.2 L837.8 1081.5 L838.6 1088.7 L837.2 1095.8 L834.9 1102.1 L832.1 1105 L829.2 1100.1 L826.3 1091.5 L823.5 1085.8Z" fill="#eaa497" stroke="#eaa497" stroke-width="0.5" stroke-linejoin="round"/>
<path d="M881.9 1132.2 L881.3 1134.6 L879.7 1136.6 L877.2 1138 L874.4 1138.5 L871.6 1138 L869.1 1136.6 L867.5 1134.6 L867 1132.2 L867.5 1129.8 L869.1 1127.7 L871.6 1126.4 L874.4 1125.9 L877.2 1126.4 L879.7 1127.7 L881.3 1129.8Z" fill="#eaa497" stroke="#eaa497" stroke-width="0.5" stroke-linejoin="round"/>
<path d="M811.4 1161.1 L817.2 1159.4 L822.3 1155.9 L827.2 1153.1 L828.6 1156.5 L826.3 1161.7 L822.9 1166.5 L817.7 1163.9Z" fill="#eaa497" stroke="#eaa497" stroke-width="0.5" stroke-linejoin="round"/>
<path d="M897.9 1115 L905.9 1113.6 L914.5 1113 L921.6 1110.1 L927.4 1105 L931.7 1101.6 L938.8 1100.1 L945.4 1098.7 L941.7 1102.1 L935.9 1105.8 L932.2 1111.6 L930.2 1118.7 L927.4 1125.9 L923.1 1132.5 L917.3 1136.8 L912.2 1138.8 L908.8 1133 L905.3 1126.7 L901.6 1120.2Z" fill="#eaa497" stroke="#eaa497" stroke-width="0.5" stroke-linejoin="round"/>
<path d="M968.3 1144.5 L971.7 1138.8 L977.4 1135.9 L988.9 1135.9 L996.9 1144.5 L996.1 1151.6 L990.3 1157.4 L983.2 1159.7 L975.2 1157.4 L970.3 1151.6Z" fill="#eaa497" stroke="#eaa497" stroke-width="0.5" stroke-linejoin="round"/>
<path d="M1062.7 1134.5 L1069 1131.6 L1074.8 1127.3 L1077.6 1120.2 L1080.5 1111.6 L1084.8 1103 L1089.1 1091.5 L1091.9 1085.8 L1097.7 1084.4 L1101.1 1088.7 L1101.1 1100.1 L1099.1 1111.6 L1094.8 1120.2 L1087.6 1124.4 L1080.5 1127.3 L1074.8 1130.7 L1069 1135.9Z" fill="#eaa497" stroke="#eaa497" stroke-width="0.5" stroke-linejoin="round"/>
<path d="M1100.5 1072.9 L1102.8 1065.8 L1106.2 1060.9 L1113.4 1058 L1120.5 1055.2 L1124.8 1049.5 L1128.3 1048.6 L1128.6 1054.3 L1125.7 1061.5 L1119.1 1065.8 L1112 1068.6 L1105.7 1074.4Z" fill="#eaa497" stroke="#eaa497" stroke-width="0.5" stroke-linejoin="round"/>
<path d="M1173.5 906.7 L830.7 1037" fill="none" stroke="#e17f7c" stroke-width="1.4" stroke-dasharray="1.4 2.65"/>
<path d="M820.6 1039.1 L789.1 1070.6" fill="none" stroke="#e17f7c" stroke-width="1.4" stroke-dasharray="1.4 2.65"/>
<path d="M787 1077.5 L787 1190.5" fill="none" stroke="#e17f7c" stroke-width="1.4" stroke-dasharray="1.4 2.65"/>
<path d="M794.5 1073 L796 1073" fill="none" stroke="#e17f7c" stroke-width="1.4" stroke-dasharray="1.4 2.65"/>
<circle cx="300.4" cy="436.7" r="20.3" fill="#fff" stroke="#d2d2d2" stroke-width="0.9"/>
<text class="lb" x="300.4" y="441.1">2,7</text>
<circle cx="419.2" cy="374.2" r="20.3" fill="#fff" stroke="#d2d2d2" stroke-width="0.9"/>
<text class="lb" x="419.2" y="378.6">2,6</text>
<circle cx="572.2" cy="372.4" r="20.3" fill="#fff" stroke="#d2d2d2" stroke-width="0.9"/>
<text class="lb" x="572.2" y="376.8">2,8</text>
<circle cx="669.9" cy="388.6" r="20.3" fill="#fff" stroke="#d2d2d2" stroke-width="0.9"/>
<text class="lb" x="669.9" y="393">2,4</text>
<circle cx="734.5" cy="433.5" r="20.3" fill="#fff" stroke="#d2d2d2" stroke-width="0.9"/>
<text class="lb" x="734.5" y="437.9">2,3</text>
<circle cx="677.5" cy="481.5" r="20.3" fill="#fff" stroke="#d2d2d2" stroke-width="0.9"/>
<text class="lb" x="677.5" y="485.9">3,0</text>
<circle cx="526.2" cy="514.3" r="20.3" fill="#fff" stroke="#d2d2d2" stroke-width="0.9"/>
<text class="lb" x="526.2" y="518.7">3,0</text>
<circle cx="785.6" cy="543" r="20.3" fill="#fff" stroke="#d2d2d2" stroke-width="0.9"/>
<text class="lb" x="785.6" y="547.4">2,9</text>
<circle cx="935.6" cy="534.1" r="20.3" fill="#fff" stroke="#d2d2d2" stroke-width="0.9"/>
<text class="lb" x="935.6" y="538.5">3,6</text>
<circle cx="587.7" cy="637" r="20.3" fill="#fff" stroke="#d2d2d2" stroke-width="0.9"/>
<text class="lb" x="587.7" y="641.4">3,4</text>
<circle cx="425.3" cy="760.3" r="20.3" fill="#fff" stroke="#d2d2d2" stroke-width="0.9"/>
<text class="lb" x="425.3" y="764.7">2,6</text>
<circle cx="642.9" cy="738" r="20.3" fill="#fff" stroke="#d2d2d2" stroke-width="0.9"/>
<text class="lb" x="642.9" y="742.4">2,4</text>
<circle cx="819.2" cy="738" r="20.3" fill="#fff" stroke="#d2d2d2" stroke-width="0.9"/>
<text class="lb" x="819.2" y="742.4">3,0</text>
<circle cx="736.9" cy="857.8" r="20.3" fill="#fff" stroke="#d2d2d2" stroke-width="0.9"/>
<text class="lb" x="736.9" y="862.2">3,0</text>
<circle cx="552.3" cy="899.2" r="20.3" fill="#fff" stroke="#d2d2d2" stroke-width="0.9"/>
<text class="lb" x="552.3" y="903.6">3,1</text>
<circle cx="1070" cy="731" r="20.3" fill="#fff" stroke="#d2d2d2" stroke-width="0.9"/>
<text class="lb" x="1070" y="735.4">3,3</text>
<circle cx="992.7" cy="1123.3" r="20.3" fill="#fff" stroke="#d2d2d2" stroke-width="0.9"/>
<text class="lb" x="992.7" y="1127.7">2,9</text>
<text class="n" x="99.4" y="818.7">Andalucía</text>
<text class="v" x="250" y="822.8">3,1</text>
<text class="n" x="99.4" y="838.1">Aragón</text>
<text class="v" x="250" y="842.1">2,9</text>
<text class="n" x="99.4" y="857.4">Asturias</text>
<text class="v" x="250" y="861.4">2.6</text>
<text class="n" x="99.4" y="876.8">Baleares</text>
<text class="v" x="250" y="880.6">3.3</text>
<text class="n" x="99.4" y="896.2">Canarias</text>
<text class="v" x="250" y="899.9">2,9</text>
<text class="n" x="99.4" y="915.6">Cantabria</text>
<text class="v" x="250" y="919.2">2,8</text>
<text class="n" x="99.4" y="934.9">Castilla y León</text>
<text class="v" x="250" y="938.5">3,0</text>
<text class="n" x="99.4" y="954.3">Castilla-La Mancha</text>
<text class="v" x="250" y="957.8">2,4</text>
<text class="n" x="99.4" y="973.7">Cataluña</text>
<text class="v" x="250" y="977.0">2,8</text>
<text class="n" x="99.4" y="993.0">Com. Valenciana</text>
<text class="v" x="250" y="996.3">3,0</text>
<text class="n" x="99.4" y="1012.4">Extremadura</text>
<text class="v" x="250" y="1015.6">2,6</text>
<text class="n" x="99.4" y="1031.8">Galicia</text>
<text class="v" x="250" y="1034.9">2,7</text>
<text class="n" x="99.4" y="1051.1">Com. de Madrid</text>
<text class="v" x="250" y="1054.2">3,4</text>
<text class="n" x="99.4" y="1070.5" style="font-weight:bold">Región de Murcia</text>
<text class="v" x="250" y="1073.4">3,0</text>
<text class="n" x="99.4" y="1089.9">Com. Foral de Navarra</text>
<text class="v" x="250" y="1092.7">2,3</text>
<text class="n" x="99.4" y="1109.2">País Vasco</text>
<text class="v" x="250" y="1112.0">2,4</text>
<text class="n" x="99.4" y="1128.6">La Rioja</text>
<text class="v" x="250" y="1131.3">3,0</text>
<text class="n" x="99.4" y="1148.0" style="font-weight:bold;fill:#c9323c">ESPAÑA</text>
<text class="v" x="250" y="1150.6">2,9</text>
<text x="99.2" y="1257" font-family="Liberation Sans, sans-serif" font-size="17" fill="#d0434c" textLength="232" lengthAdjust="spacing">Fuente: Hispalink, enero 2026</text>
</svg></body></html>
